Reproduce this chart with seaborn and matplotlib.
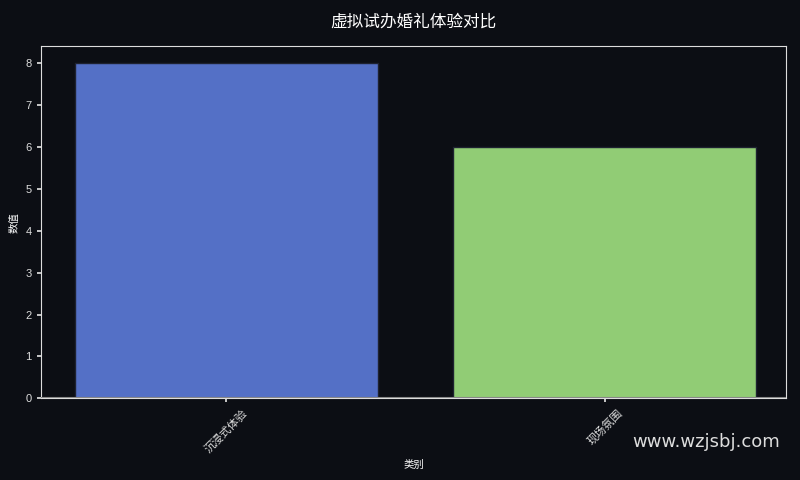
import matplotlib
matplotlib.use("Agg")
import matplotlib.pyplot as plt
import seaborn as sns
import pandas as pd

categories = ["沉浸式体验", "现场氛围"]
values = [8, 6]
bar_colors = ["#5470c6", "#91cc75"]

BG = "#0c0e14"

sns.set_theme(style="dark")
plt.rcParams["font.family"] = ["Liberation Sans", "Noto Sans CJK SC", "DejaVu Sans"]
plt.rcParams["axes.unicode_minus"] = False

df = pd.DataFrame({"类别": categories, "数值": values})

fig, ax = plt.subplots(figsize=(8, 4.8), dpi=100)
fig.patch.set_facecolor(BG)
ax.set_facecolor(BG)

sns.barplot(data=df, x="类别", y="数值", hue="类别", palette=bar_colors,
            legend=False, width=0.8, saturation=1, edgecolor="#1e2230",
            linewidth=1, ax=ax)
ax.axhline(0, color="#888888", linewidth=1.5, zorder=5)
ax.set_xlim(-0.49, 1.48)

ax.set_title("虚拟试办婚礼体验对比", color="white", fontsize=12, pad=14)
ax.set_xlabel("类别", color="white", fontsize=7.5)
ax.set_ylabel("数值", color="white", fontsize=7.5)
ax.tick_params(axis="both", colors="#dddddd", labelsize=8, length=3,
               bottom=True, left=True)
plt.setp(ax.get_xticklabels(), rotation=45)
for s in ax.spines.values():
    s.set_color("#dddddd")
    s.set_linewidth(0.8)
ax.grid(False)

fig.text(0.975, 0.06, "www.wzjsbj.com", color="#dddddd", fontsize=13,
         family=["DejaVu Sans"], ha="right", va="bottom")

fig.subplots_adjust(left=0.051, right=0.983, top=0.904, bottom=0.17)
fig.savefig("out.png", dpi=100, facecolor=fig.get_facecolor())
